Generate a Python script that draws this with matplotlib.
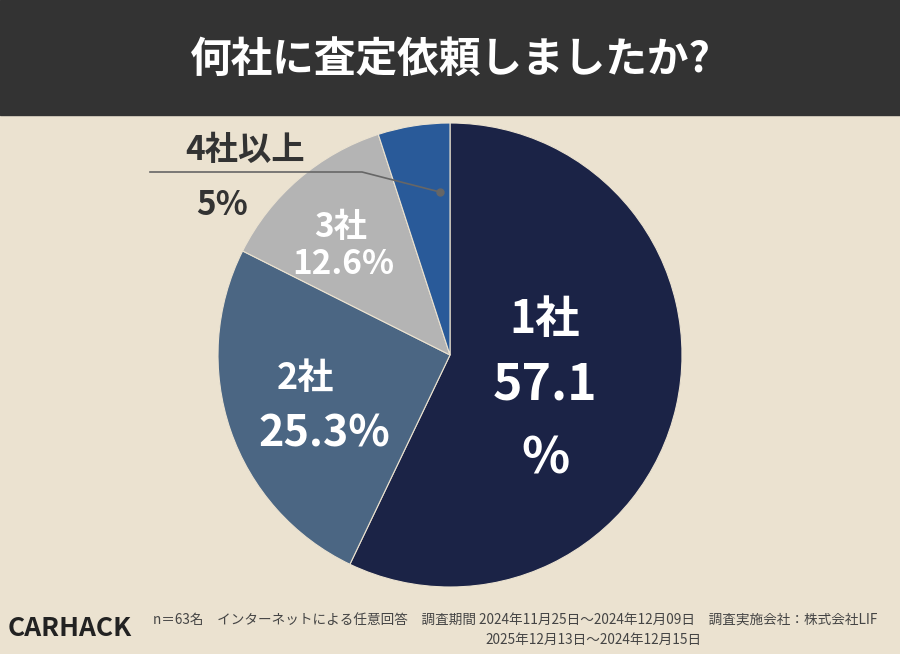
import matplotlib
matplotlib.use("Agg")
import matplotlib.pyplot as plt
from matplotlib.patches import Rectangle
from matplotlib.lines import Line2D

plt.rcParams["font.family"] = "Noto Sans CJK JP"

categories = ["1社", "2社", "3社", "4社以上"]
values = [57.1, 25.3, 12.6, 5.0]
value_labels = ["57.1\n%", "25.3%", "12.6%", "5%"]
colors = ["#1b2346", "#4b6683", "#b4b4b4", "#295a99"]

W, H = 900, 654
fig = plt.figure(figsize=(9, 6.54), dpi=100)
fig.patch.set_facecolor("#ebe2d0")
fig.add_artist(Rectangle((0, 1 - 115 / H), 1, 115 / H, transform=fig.transFigure, color="#333333", zorder=0))
fig.text(0.5, 1 - 60 / H, "何社に査定依頼しましたか?", color="white", fontsize=30, fontweight="bold", ha="center", va="center")

cx, cy, r = 450, 355, 232
ax = fig.add_axes([(cx - r) / W, (H - cy - r) / H, 2 * r / W, 2 * r / H])
ax.pie(values, colors=colors, startangle=90, counterclock=False, radius=1,
       wedgeprops=dict(linewidth=0.8, edgecolor="#ebe2d0"))
ax.set_xlim(-1, 1); ax.set_ylim(-1, 1); ax.set_aspect("equal"); ax.axis("off")

kw = dict(color="white", fontweight="bold", ha="center", va="center")
ax.text(0.41, 0.15, categories[0], fontsize=32, **kw)
ax.text(0.41, -0.13, "57.1", fontsize=36, **kw)
ax.text(0.41, -0.45, "%", fontsize=36, **kw)
ax.text(-0.625, -0.10, categories[1], fontsize=26, **kw)
ax.text(-0.54, -0.34, value_labels[1], fontsize=31, **kw)
ax.text(-0.47, 0.55, categories[2], fontsize=24, **kw)
ax.text(-0.46, 0.39, value_labels[2], fontsize=24, **kw)

def fx(x): return x / W
def fy(y): return 1 - y / H
fig.text(fx(245), fy(150), categories[3], fontsize=24, fontweight="bold", color="#333333", ha="center", va="center")
fig.text(fx(222), fy(205), value_labels[3], fontsize=24, fontweight="bold", color="#333333", ha="center", va="center")
fig.add_artist(Line2D([fx(150), fx(362), fx(440)], [fy(172), fy(172), fy(192)], color="#666666", lw=1.2, transform=fig.transFigure))
fig.add_artist(Line2D([fx(440)], [fy(192)], marker="o", ms=5, color="#666666", transform=fig.transFigure))

fig.text(fx(70), fy(628), "CARHACK", fontsize=19, fontweight="bold", fontstyle="italic", color="#222222", ha="center", va="center")
fig.text(fx(515), fy(621), "n＝63名　インターネットによる任意回答　調査期間 2024年11月25日～2024年12月09日　調査実施会社：株式会社LIF",
         fontsize=9.8, color="#444444", ha="center", va="center")
fig.text(fx(593), fy(640), "2025年12月13日～2024年12月15日", fontsize=9.8, color="#444444", ha="center", va="center")

fig.savefig("out.png", dpi=100, facecolor=fig.get_facecolor())
